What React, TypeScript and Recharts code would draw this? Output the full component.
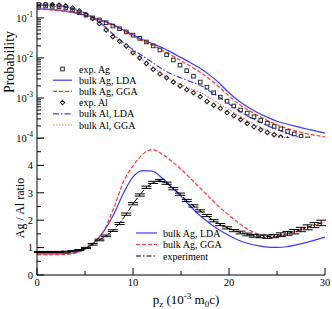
import React from 'react'
import { ErrorBar, Legend, Line, LineChart, XAxis, YAxis } from 'recharts'

const SERIF = '"Liberation Serif", "Times New Roman", Times, serif'
const BLUE = '#3b3bff'
const RED = '#ff3434'
const PINK = '#ff7272'
const INK = '#2a2a2a'

// momentum p_z in 10^-3 m0c
const pTheory = [0, 1, 2, 3, 4, 5, 6, 7, 8, 9, 10, 11, 12, 13, 14, 15, 16, 17, 18, 19, 20, 21, 22, 23, 24, 25, 26, 27, 28, 29, 30]
const pExp = [
  0.2, 0.9, 1.6, 2.3, 3.0, 3.7, 4.4, 5.1, 5.8, 6.5, 7.2, 7.9, 8.6, 9.3, 10.0, 10.7, 11.4, 12.1, 12.8, 13.5, 14.2, 14.9,
  15.6, 16.3, 17.0, 17.7, 18.4, 19.1, 19.8, 20.5, 21.2, 21.9, 22.6, 23.3, 24.0, 24.7, 25.4, 26.1, 26.8, 27.5, 28.2,
  28.9, 29.6,
]

// top panel: probability (log)
const agLdaProb = [
  0.168, 0.166, 0.1585, 0.148, 0.135, 0.1175, 0.1, 0.0832, 0.0661, 0.0501, 0.038, 0.0288, 0.0229, 0.0182, 0.0138,
  0.0102, 0.00759, 0.0055, 0.00372, 0.00234, 0.00135, 0.00085, 0.000589, 0.000427, 0.000331, 0.000263, 0.000224,
  0.000195, 0.00017, 0.000151, 0.000132,
]
const agGgaProb = [
  0.164, 0.162, 0.155, 0.1445, 0.132, 0.115, 0.0977, 0.0794, 0.0631, 0.0479, 0.0355, 0.0269, 0.0209, 0.0158, 0.0117,
  0.00851, 0.00617, 0.00437, 0.00295, 0.00186, 0.00112, 0.000708, 0.000501, 0.000363, 0.000275, 0.000214, 0.000174,
  0.000148, 0.000129, 0.000117, 0.000107,
]
const alLdaProb = [
  0.209, 0.2065, 0.1995, 0.1905, 0.166, 0.132, 0.0955, 0.0631, 0.038, 0.024, 0.0162, 0.0112, 0.00776, 0.00537, 0.00398,
  0.00316, 0.00257, 0.00209, 0.00148, 0.00105, 0.000708, 0.00049, 0.000347, 0.000263, 0.000204, 0.000162, 0.000132,
  0.00011, 0.0000933, 0.0000813, 0.0000708,
]
const alGgaProb = [
  0.204, 0.2018, 0.195, 0.1862, 0.162, 0.129, 0.0912, 0.0589, 0.0347, 0.0209, 0.0135, 0.00912, 0.00603, 0.00398,
  0.00282, 0.00214, 0.0017, 0.00138, 0.001, 0.000708, 0.000513, 0.000363, 0.000263, 0.0002, 0.000151, 0.00012,
  0.0000977, 0.0000813, 0.0000692, 0.0000603, 0.0000525,
]
const expAgProb = [
  0.1995, 0.1995, 0.195, 0.19, 0.178, 0.158, 0.135, 0.1175, 0.1, 0.089, 0.076, 0.063, 0.0537, 0.0447, 0.0372, 0.0309,
  0.0251, 0.02, 0.0158, 0.012, 0.0089, 0.0066, 0.0048, 0.0035, 0.0025, 0.00186, 0.00135, 0.00105, 0.00083, 0.00063,
  0.0005, 0.00042, 0.00034, 0.000275, 0.000234, 0.000195, 0.00017, 0.000145, 0.000126, 0.00011, 0.000095,
]
const expAlProb = [
  0.225, 0.222, 0.217, 0.21, 0.198, 0.178, 0.15, 0.122, 0.096, 0.072, 0.05, 0.034, 0.026, 0.02, 0.0135, 0.01, 0.0073,
  0.0052, 0.004, 0.0032, 0.0025, 0.002, 0.0016, 0.00135, 0.00108, 0.00082, 0.00066, 0.00055, 0.00043, 0.00036,
  0.00029, 0.00023, 0.00019, 0.00016, 0.000138, 0.000121, 0.000106, 0.000094,
]

// bottom panel: Ag / Al ratio
const agLdaRatio = [
  0.77, 0.77, 0.77, 0.78, 0.82, 0.95, 1.2, 1.62, 2.22, 2.98, 3.58, 3.81, 3.79, 3.55, 3.22, 2.88, 2.5, 2.16, 1.88, 1.64,
  1.44, 1.27, 1.15, 1.07, 1.02, 1.01, 1.03, 1.1, 1.18, 1.28, 1.38,
]
const agGgaRatio = [
  0.74, 0.74, 0.74, 0.75, 0.8, 0.94, 1.2, 1.64, 2.45, 3.4, 3.98, 4.4, 4.58, 4.42, 4.16, 3.86, 3.52, 3.17, 2.82, 2.48,
  2.18, 1.9, 1.66, 1.5, 1.42, 1.42, 1.5, 1.6, 1.72, 1.83, 1.93,
]
const expRatio = [
  0.84, 0.84, 0.84, 0.84, 0.85, 0.87, 0.91, 0.99, 1.12, 1.28, 1.43, 1.62, 1.88, 2.22, 2.6, 2.92, 3.2, 3.38, 3.45, 3.35,
  3.15, 2.95, 2.72, 2.52, 2.34, 2.17, 1.98, 1.84, 1.72, 1.62, 1.55, 1.48, 1.43, 1.41, 1.4, 1.42, 1.47, 1.52, 1.58,
  1.66, 1.74, 1.82, 1.9,
]
const expRatioErr = [
  0.02, 0.02, 0.02, 0.02, 0.02, 0.02, 0.02, 0.02, 0.03, 0.03, 0.03, 0.03, 0.04, 0.04, 0.04, 0.04, 0.04, 0.04, 0.04,
  0.04, 0.04, 0.04, 0.04, 0.04, 0.04, 0.04, 0.04, 0.04, 0.04, 0.04, 0.05, 0.05, 0.05, 0.05, 0.06, 0.06, 0.07, 0.07,
  0.08, 0.08, 0.09, 0.09, 0.1,
]

const pTicks = [0, 5, 10, 15, 20, 25, 30]
const probDecades = [1e-4, 1e-3, 1e-2, 1e-1]
const ratioTicks = [0, 0.5, 1, 1.5, 2, 2.5, 3, 3.5, 4, 4.5, 5]
const ratioLabels = [0, 1, 2, 3, 4]

const PROB_MAX = 0.25
const probTicks: number[] = []
probDecades.forEach((d) => {
  for (let k = 1; k <= 9; k++) if (d * k <= PROB_MAX) probTicks.push(d * k)
})

const theoryProb = pTheory.map((p, i) => ({
  p,
  agLda: agLdaProb[i],
  agGga: agGgaProb[i],
  alLda: alLdaProb[i],
  alGga: alGgaProb[i],
}))
const expAg = expAgProb.map((v, i) => ({ p: pExp[i], v }))
const expAl = expAlProb.map((v, i) => ({ p: pExp[i], v }))
const theoryRatio = pTheory.map((p, i) => ({ p, lda: agLdaRatio[i], gga: agGgaRatio[i] }))
const expRatioData = expRatio.map((v, i) => ({ p: pExp[i], v, err: expRatioErr[i] }))

const probLines = [
  { key: 'agLda', name: 'bulk Ag, LDA', color: BLUE, dash: undefined as string | undefined },
  { key: 'agGga', name: 'bulk Ag, GGA', color: RED, dash: '4 2' },
  { key: 'alLda', name: 'bulk Al, LDA', color: BLUE, dash: '6 2 1.5 2' },
  { key: 'alGga', name: 'bulk Al, GGA', color: PINK, dash: '1.5 1.5' },
]

type Row = { name: string; color: string; dash?: string; marker?: 'square' | 'diamond' }

const probLegend: Row[] = [
  { name: 'exp. Ag', color: INK, marker: 'square' },
  probLines[0],
  probLines[1],
  { name: 'exp. Al', color: INK, marker: 'diamond' },
  probLines[2],
  probLines[3],
]
const ratioLegend: Row[] = [
  { name: 'bulk Ag, LDA', color: BLUE },
  { name: 'bulk Ag, GGA', color: RED, dash: '4 2' },
  { name: 'experiment', color: '#000', dash: '5 2 1.5 2' },
]

const near = (a: number, b: number) => Math.abs(a / b - 1) < 1e-6
const isDecade = (v: number) => probDecades.some((d) => near(v, d))
const isTen = (v: number) => v % 10 === 0
const isInt = (v: number) => Number.isInteger(v)

type Side = 'left' | 'right' | 'top' | 'bottom'

function axisTick(side: Side, isMajor: (v: number) => boolean, label?: (v: number) => React.ReactNode) {
  return (props: any) => {
    const { x, y, payload } = props
    const v = payload.value as number
    const len = isMajor(v) ? 7 : 4
    const x2 = side === 'left' ? x + len : side === 'right' ? x - len : x
    const y2 = side === 'top' ? y + len : side === 'bottom' ? y - len : y
    const txt = label ? label(v) : null
    return (
      <g>
        <line x1={x} y1={y} x2={x2} y2={y2} stroke="#000" strokeWidth={1} />
        {txt != null && side === 'left' && (
          <text x={x - 4} y={y + 3.8} textAnchor="end" fontFamily={SERIF} fontSize={10.5} fill="#000">
            {txt}
          </text>
        )}
        {txt != null && side === 'bottom' && (
          <text x={x} y={y + 10.5} textAnchor="middle" fontFamily={SERIF} fontSize={10.5} fill="#000">
            {txt}
          </text>
        )}
      </g>
    )
  }
}

const decadeLabel = (v: number) =>
  isDecade(v) ? (
    <>
      10
      <tspan fontSize={7.5} dy={-5}>
        {String(Math.round(Math.log10(v)))}
      </tspan>
    </>
  ) : null
const ratioLabel = (v: number) => (ratioLabels.includes(v) ? String(v) : null)
const pLabel = (v: number) => (isTen(v) ? String(v) : null)

function YTitle(props: any) {
  const vb = props.viewBox || { x: 0, y: 0, width: 37, height: 136 }
  const cx = vb.x + props.dx
  const cy = vb.y + vb.height / 2 + props.dy
  return (
    <text
      x={cx}
      y={cy}
      transform={`rotate(-90 ${cx} ${cy})`}
      textAnchor="middle"
      dominantBaseline="central"
      fontFamily={SERIF}
      fontSize={props.size}
      fill="#000"
    >
      {props.text}
    </text>
  )
}

function XTitle(props: any) {
  const vb = props.viewBox || { x: 37, y: 137, width: 288, height: 34 }
  const cx = vb.x + vb.width / 2 + 5
  const cy = vb.y + 29
  return (
    <text x={cx} y={cy} textAnchor="middle" fontFamily={SERIF} fontSize={13} fill="#000">
      p
      <tspan fontSize={9} dy={3}>
        z
      </tspan>
      <tspan dy={-3}> (10</tspan>
      <tspan fontSize={9} dy={-5}>
        -3
      </tspan>
      <tspan dy={5}> m</tspan>
      <tspan fontSize={9} dy={3}>
        0
      </tspan>
      <tspan dy={-3}>c)</tspan>
    </text>
  )
}

const squareDot = (props: any) => {
  const { cx, cy, index } = props
  if (cx == null || cy == null) return <g key={index} />
  return <rect key={index} x={cx - 1.8} y={cy - 1.8} width={3.6} height={3.6} fill="none" stroke={INK} strokeWidth={1} />
}

const diamondDot = (props: any) => {
  const { cx, cy, index } = props
  if (cx == null || cy == null) return <g key={index} />
  const r = 2.2
  return (
    <path
      key={index}
      d={`M${cx},${cy - r}L${cx + r},${cy}L${cx},${cy + r}L${cx - r},${cy}Z`}
      fill="none"
      stroke={INK}
      strokeWidth={1.1}
    />
  )
}

function legendContent(rows: Row[], lineFrom: number, lineTo: number, textX: number, step: number) {
  return () => (
    <svg width={130} height={rows.length * step + 6} style={{ display: 'block' }}>
      {rows.map((r, i) => {
        const cy = 6 + i * step
        const mid = (lineFrom + lineTo) / 2
        return (
          <g key={r.name}>
            {r.marker === 'square' && squareDot({ cx: mid, cy, index: i })}
            {r.marker === 'diamond' && diamondDot({ cx: mid, cy, index: i })}
            {!r.marker && (
              <line x1={lineFrom} y1={cy} x2={lineTo} y2={cy} stroke={r.color} strokeWidth={1.2} strokeDasharray={r.dash} />
            )}
            <text x={textX} y={cy + 3.5} fontFamily={SERIF} fontSize={10} fill="#000">
              {r.name}
            </text>
          </g>
        )
      })}
    </svg>
  )
}

const axisLine = { stroke: '#000', strokeWidth: 1 }
const common = { tickLine: false, tickSize: 0, tickMargin: 0, interval: 0 as const, axisLine }

export default function App() {
  return (
    <div style={{ position: 'absolute', left: 0, top: 0, width: 332, height: 309, background: '#fff' }}>
      <div style={{ position: 'absolute', left: 0, top: 0 }}>
        <LineChart width={332} height={150} margin={{ top: 2, right: 7, bottom: 12, left: 0 }}>
          <XAxis
            dataKey="p"
            type="number"
            domain={[0, 30]}
            ticks={pTicks}
            height={0}
            allowDataOverflow
            tick={axisTick('bottom', isTen)}
            {...common}
          />
          <XAxis
            xAxisId="top"
            orientation="top"
            type="number"
            domain={[0, 30]}
            ticks={pTicks}
            height={0}
            allowDataOverflow
            tick={axisTick('top', isTen)}
            {...common}
          />
          <YAxis
            type="number"
            scale="log"
            domain={[1e-4, PROB_MAX]}
            ticks={probTicks}
            width={37}
            allowDataOverflow
            tick={axisTick('left', isDecade, decadeLabel)}
            label={<YTitle text="Probability" dx={9} dy={-8} size={14} />}
            {...common}
          />
          <YAxis
            yAxisId="right"
            orientation="right"
            type="number"
            scale="log"
            domain={[1e-4, PROB_MAX]}
            ticks={probTicks}
            width={0}
            allowDataOverflow
            tick={axisTick('right', isDecade)}
            {...common}
          />
          {probLines.map((s) => (
            <Line
              key={s.key}
              data={theoryProb}
              dataKey={s.key}
              name={s.name}
              type="monotone"
              stroke={s.color}
              strokeWidth={1.2}
              strokeDasharray={s.dash}
              dot={false}
              activeDot={false}
              isAnimationActive={false}
            />
          ))}
          <Line
            data={expAg}
            dataKey="v"
            name="exp. Ag"
            stroke="none"
            dot={squareDot}
            activeDot={false}
            isAnimationActive={false}
          />
          <Line
            data={expAl}
            dataKey="v"
            name="exp. Al"
            stroke="none"
            dot={diamondDot}
            activeDot={false}
            isAnimationActive={false}
          />
          <Legend
            layout="vertical"
            align="center"
            verticalAlign="middle"
            wrapperStyle={{ left: 50, top: 63, width: 130 }}
            content={legendContent(probLegend, 3, 22, 29, 11.2)}
          />
        </LineChart>
      </div>
      <div style={{ position: 'absolute', left: 0, top: 138 }}>
        <LineChart width={332} height={171} margin={{ top: 0, right: 7, bottom: 0, left: 0 }}>
          <XAxis
            dataKey="p"
            type="number"
            domain={[0, 30]}
            ticks={pTicks}
            height={34}
            allowDataOverflow
            tick={axisTick('bottom', isTen, pLabel)}
            label={<XTitle />}
            {...common}
          />
          <XAxis
            xAxisId="top"
            orientation="top"
            type="number"
            domain={[0, 30]}
            ticks={pTicks}
            height={0}
            allowDataOverflow
            tick={axisTick('top', isTen)}
            {...common}
          />
          <YAxis
            type="number"
            domain={[0, 5]}
            ticks={ratioTicks}
            width={37}
            allowDataOverflow
            tick={axisTick('left', isInt, ratioLabel)}
            label={<YTitle text="Ag / Al ratio" dx={19.5} dy={1.5} size={12} />}
            {...common}
          />
          <YAxis
            yAxisId="right"
            orientation="right"
            type="number"
            domain={[0, 5]}
            ticks={ratioTicks}
            width={0}
            allowDataOverflow
            tick={axisTick('right', isInt)}
            {...common}
          />
          <Line
            data={theoryRatio}
            dataKey="lda"
            name="bulk Ag, LDA"
            type="monotone"
            stroke={BLUE}
            strokeWidth={1.2}
            dot={false}
            activeDot={false}
            isAnimationActive={false}
          />
          <Line
            data={theoryRatio}
            dataKey="gga"
            name="bulk Ag, GGA"
            type="monotone"
            stroke={RED}
            strokeWidth={1.2}
            strokeDasharray="4 2"
            dot={false}
            activeDot={false}
            isAnimationActive={false}
          />
          <Line
            data={expRatioData}
            dataKey="v"
            name="experiment"
            type="linear"
            stroke="#000"
            strokeWidth={1}
            strokeDasharray="5 2 1.5 2"
            dot={false}
            activeDot={false}
            isAnimationActive={false}
          >
            <ErrorBar dataKey="err" width={5} stroke="#000" strokeWidth={1} direction="y" isAnimationActive={false} />
          </Line>
          <Legend
            layout="vertical"
            align="center"
            verticalAlign="middle"
            wrapperStyle={{ left: 134, top: 89, width: 130 }}
            content={legendContent(ratioLegend, 2, 23, 29, 11.5)}
          />
        </LineChart>
      </div>
    </div>
  )
}
